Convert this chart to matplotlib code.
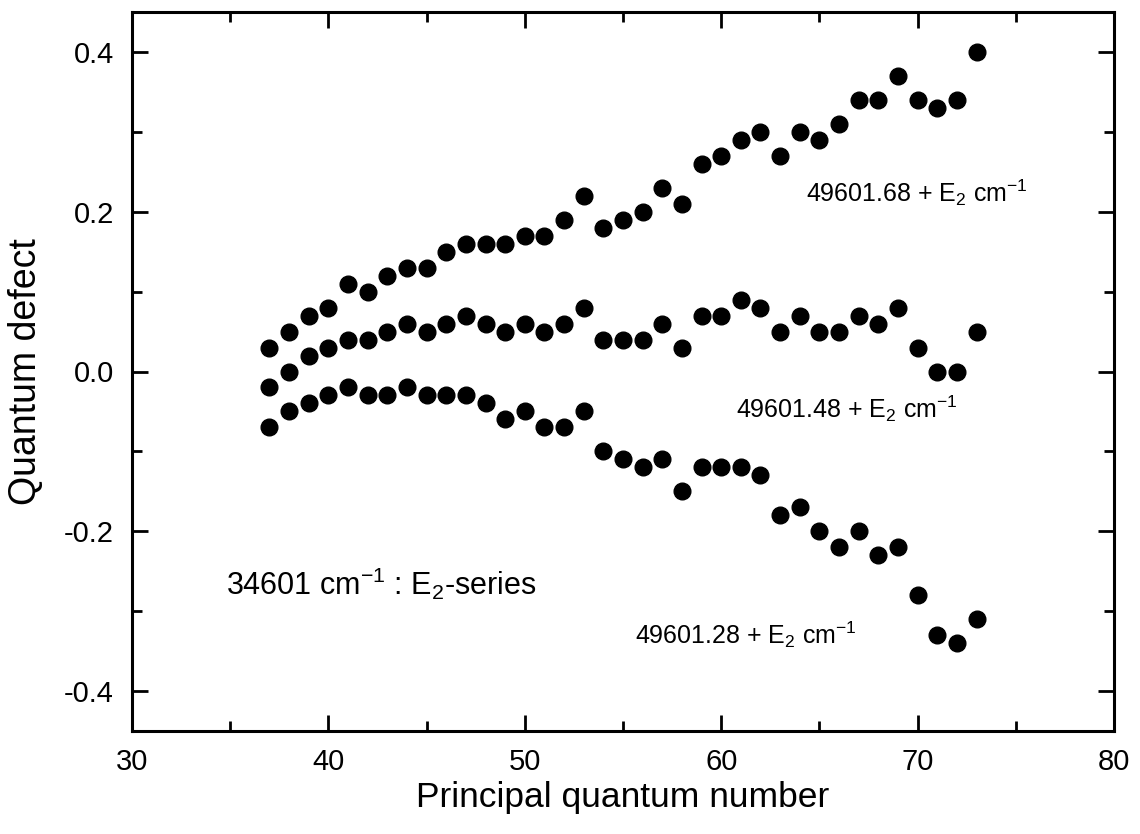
import matplotlib
matplotlib.use("Agg")
import matplotlib.pyplot as plt
from matplotlib.ticker import MultipleLocator

plt.rcParams['font.family'] = ['Liberation Sans', 'DejaVu Sans']
plt.rcParams['mathtext.default'] = 'regular'

n = list(range(37, 74))
upper = [0.03, 0.05, 0.07, 0.08, 0.11, 0.10, 0.12, 0.13, 0.13, 0.15,
         0.16, 0.16, 0.16, 0.17, 0.17, 0.19, 0.22, 0.18, 0.19, 0.20,
         0.23, 0.21, 0.26, 0.27, 0.29, 0.30, 0.27, 0.30, 0.29, 0.31,
         0.34, 0.34, 0.37, 0.34, 0.33, 0.34, 0.40]
middle = [-0.02, 0.00, 0.02, 0.03, 0.04, 0.04, 0.05, 0.06, 0.05, 0.06,
          0.07, 0.06, 0.05, 0.06, 0.05, 0.06, 0.08, 0.04, 0.04, 0.04,
          0.06, 0.03, 0.07, 0.07, 0.09, 0.08, 0.05, 0.07, 0.05, 0.05,
          0.07, 0.06, 0.08, 0.03, 0.00, 0.00, 0.05]
lower = [-0.07, -0.05, -0.04, -0.03, -0.02, -0.03, -0.03, -0.02, -0.03, -0.03,
         -0.03, -0.04, -0.06, -0.05, -0.07, -0.07, -0.05, -0.10, -0.11, -0.12,
         -0.11, -0.15, -0.12, -0.12, -0.12, -0.13, -0.18, -0.17, -0.20, -0.22,
         -0.20, -0.23, -0.22, -0.28, -0.33, -0.34, -0.31]

labels = [r'49601.68 + E$_{2}$ cm$^{-1}$', r'49601.48 + E$_{2}$ cm$^{-1}$',
          r'49601.28 + E$_{2}$ cm$^{-1}$']
title_text = r'34601 cm$^{-1}$ : E$_{2}$-series'

fig = plt.figure(figsize=(11.4, 8.34), dpi=100)
ax = fig.add_axes([132 / 1140, 1 - 731 / 834, 982 / 1140, 719 / 834])

for s in (upper, middle, lower):
    ax.plot(n, s, 'o', color='black', markersize=12, linestyle='none')

ax.set_xlim(30, 80)
ax.set_ylim(-0.45, 0.45)
ax.xaxis.set_major_locator(MultipleLocator(10))
ax.xaxis.set_minor_locator(MultipleLocator(5))
ax.yaxis.set_minor_locator(MultipleLocator(0.1))
ax.set_yticks([-0.4, -0.2, 0.0, 0.2, 0.4])
ax.set_yticklabels(['-0.4', '-0.2', '0.0', '0.2', '0.4'])

ax.tick_params(which='both', direction='in', top=True, right=True, width=2)
ax.tick_params(which='major', length=11.5, labelsize=21)
ax.tick_params(which='minor', length=7)
ax.tick_params(axis='y', which='major', pad=13)
ax.tick_params(axis='x', which='major', pad=12)
for sp in ax.spines.values():
    sp.set_linewidth(2.2)

ax.set_xlabel('Principal quantum number', fontsize=25.5, labelpad=4)
ax.set_ylabel('Quantum defect', fontsize=27)
ax.yaxis.set_label_coords(-0.09, 0.5)

ax.text(64.32, 0.212, labels[0], fontsize=18, ha='left', va='baseline')
ax.text(60.75, -0.058, labels[1], fontsize=18, ha='left', va='baseline')
ax.text(55.61, -0.341, labels[2], fontsize=18, ha='left', va='baseline')
ax.text(34.8, -0.28, title_text, fontsize=22, ha='left', va='baseline')

fig.savefig('out.png', dpi=100)
